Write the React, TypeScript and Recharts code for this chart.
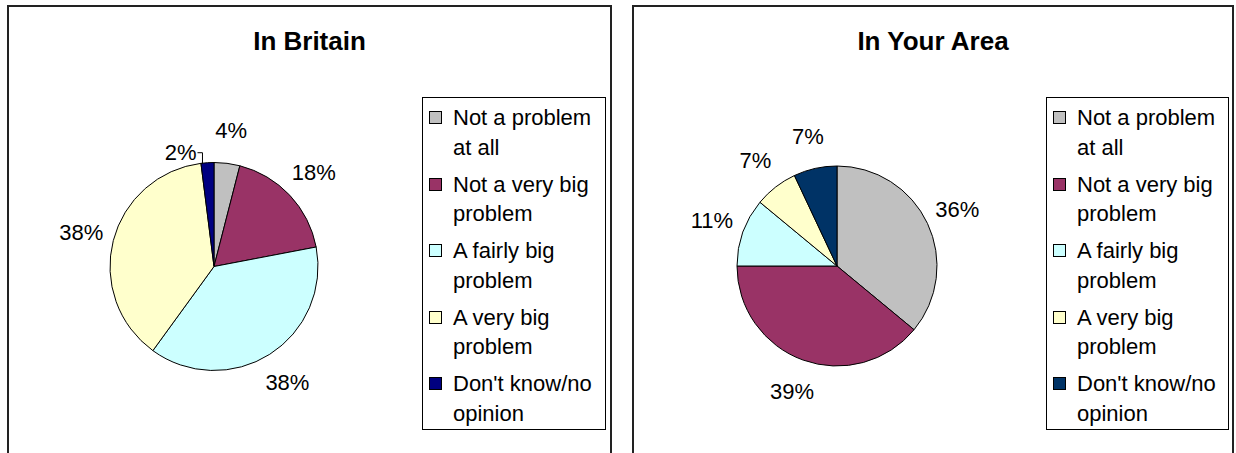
import React from 'react'
import { PieChart, Pie, Cell, Legend } from 'recharts'

const categories = [
  'Not a problem at all',
  'Not a very big problem',
  'A fairly big problem',
  'A very big problem',
  "Don't know/no opinion",
]
const britainValues = [4, 18, 38, 38, 2]
const areaValues = [36, 39, 11, 7, 7]

const britainColors = ['#C0C0C0', '#993366', '#CCFFFF', '#FFFFCC', '#000080']
const areaColors = ['#C0C0C0', '#993366', '#CCFFFF', '#FFFFCC', '#003366']

const FONT = '"Liberation Sans", Arial, Helvetica, sans-serif'
const RAD = Math.PI / 180

function renderLabel(props: any) {
  const { cx, cy, midAngle, outerRadius, value, percent } = props
  const cos = Math.cos(-midAngle * RAD)
  const sin = Math.sin(-midAngle * RAD)
  if (percent < 0.03) {
    // tiny slice: label pulled aside with a small elbow leader, like Excel
    const px = cx + outerRadius * cos
    const py = cy + outerRadius * sin
    return (
      <g>
        <polyline
          points={`${px - 10},${py - 10} ${px - 5},${py - 10} ${px - 5},${py + 1}`}
          fill="none"
          stroke="#000"
          strokeWidth={1}
        />
        <text
          x={px - 11}
          y={py - 10}
          textAnchor="end"
          dominantBaseline="central"
          fontFamily={FONT}
          fontSize={22}
          fill="#000"
        >
          {value}%
        </text>
      </g>
    )
  }
  const r = outerRadius + 33
  return (
    <text
      x={cx + r * cos}
      y={cy + r * sin}
      textAnchor="middle"
      dominantBaseline="central"
      fontFamily={FONT}
      fontSize={22}
      fill="#000"
    >
      {value}%
    </text>
  )
}

function LegendBox({ colors }: { colors: string[] }) {
  return (
    <div
      style={{
        border: '1px solid #000',
        boxSizing: 'border-box',
        width: '100%',
        height: '100%',
        paddingTop: 5,
        fontFamily: FONT,
        fontSize: 22,
        color: '#000',
        background: '#fff',
      }}
    >
      {categories.map((c, i) => (
        <div key={c} style={{ position: 'relative', height: 66.5, paddingLeft: 30, lineHeight: '29.5px', paddingRight: 4 }}>
          <span
            style={{
              position: 'absolute',
              left: 6,
              top: 8,
              width: 11,
              height: 11,
              background: colors[i],
              border: '1px solid #000',
            }}
          />
          {c}
        </div>
      ))}
    </div>
  )
}

interface PanelProps {
  title: string
  values: number[]
  colors: string[]
  left: number
  width: number
  pieCx: number
  pieCy: number
  radius: number
  legendLeft: number
  legendWidth: number
}

function Panel({ title, values, colors, left, width, pieCx, pieCy, radius, legendLeft, legendWidth }: PanelProps) {
  const data = categories.map((name, i) => ({ name, value: values[i] }))
  return (
    <div
      style={{
        position: 'absolute',
        left,
        top: 5,
        width,
        height: 470,
        border: '2px solid #222',
        boxSizing: 'border-box',
        background: '#fff',
      }}
    >
      <div
        style={{
          position: 'absolute',
          left: 0,
          right: 0,
          top: 19,
          textAlign: 'center',
          fontFamily: FONT,
          fontWeight: 'bold',
          fontSize: 26,
          lineHeight: '30px',
          color: '#000',
        }}
      >
        {title}
      </div>
      <PieChart width={width - 4} height={460} margin={{ top: 0, right: 0, bottom: 0, left: 0 }}>
        <Pie
          data={data}
          dataKey="value"
          nameKey="name"
          cx={pieCx}
          cy={pieCy}
          outerRadius={radius}
          startAngle={90}
          endAngle={-270}
          stroke="#000"
          strokeWidth={1}
          label={renderLabel}
          labelLine={false}
          isAnimationActive={false}
        >
          {data.map((d, i) => (
            <Cell key={d.name} fill={colors[i]} />
          ))}
        </Pie>
        <Legend
          content={() => <LegendBox colors={colors} />}
          wrapperStyle={{ position: 'absolute', left: legendLeft, top: 90, width: legendWidth, height: 333 }}
        />
      </PieChart>
    </div>
  )
}

export default function App() {
  return (
    <div
      style={{
        position: 'absolute',
        left: 0,
        top: 0,
        width: 1236,
        height: 453,
        overflow: 'hidden',
        background: '#fff',
      }}
    >
      <Panel
        title="In Britain"
        values={britainValues}
        colors={britainColors}
        left={7}
        width={605}
        pieCx={205}
        pieCy={259.5}
        radius={104}
        legendLeft={413}
        legendWidth={184}
      />
      <Panel
        title="In Your Area"
        values={areaValues}
        colors={areaColors}
        left={632}
        width={602}
        pieCx={203}
        pieCy={259}
        radius={100}
        legendLeft={412}
        legendWidth={183}
      />
    </div>
  )
}
